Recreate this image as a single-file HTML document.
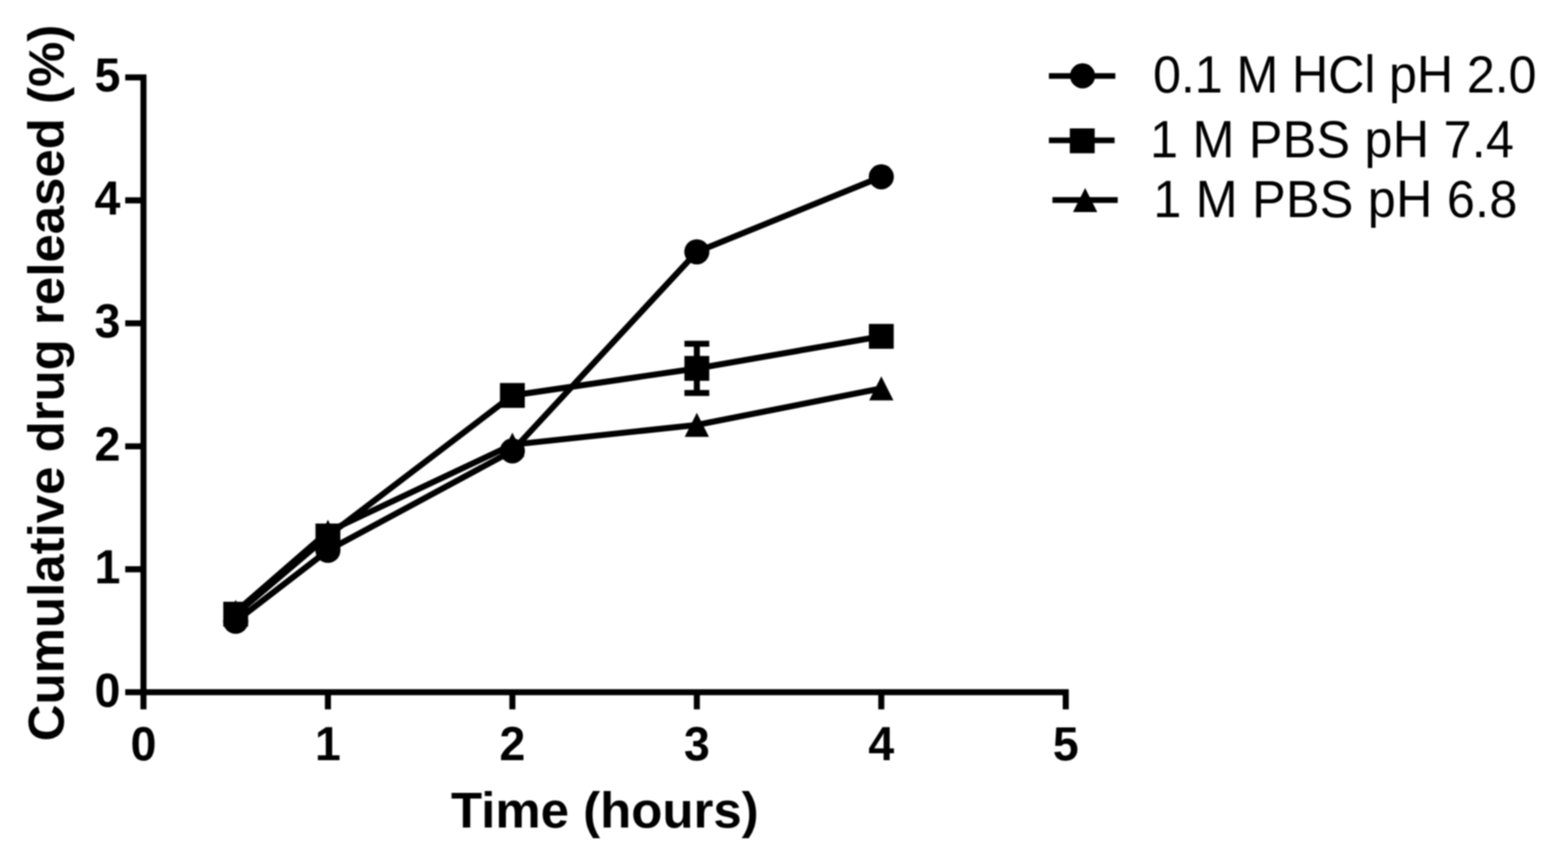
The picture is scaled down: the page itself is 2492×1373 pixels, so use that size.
<!DOCTYPE html>
<html lang="en">
<head>
<meta charset="utf-8">
<title>Cumulative drug released (%) vs Time (hours)</title>
<style>
html,body{margin:0;padding:0;background:#fff;}
body{width:2492px;height:1373px;overflow:hidden;}
svg{display:block;filter:blur(0.9px);}
text{font-family:"Liberation Sans",Arial,Helvetica,sans-serif;fill:#000;}
.tick{font-size:74px;font-weight:bold;}
.title{font-size:81px;font-weight:bold;}
.leg{font-size:80px;}
.ln{stroke:#000;stroke-width:9.6;fill:none;}
.lg{stroke-width:9.1;}
</style>
</head>
<body>
<svg width="2492" height="1373" viewBox="0 0 2492 1373">
<rect x="0" y="0" width="2492" height="1373" fill="#fff"/>

<g id="series-hcl">
<polyline class="ln" points="374.58,987.4 521.16,874.6 814.32,716.5 1107.48,400.2 1400.64,281"/>
<circle cx="374.58" cy="987.4" r="19.95"/>
<circle cx="521.16" cy="874.6" r="19.95"/>
<circle cx="814.32" cy="716.5" r="19.95"/>
<circle cx="1107.48" cy="400.2" r="19.95"/>
<circle cx="1400.64" cy="281" r="19.95"/>
</g>
<g id="series-pbs74">
<path class="ln" d="M1107.48 546.3V624.5M1087.73 546.3H1127.23M1087.73 624.5H1127.23"/>
<polyline class="ln" points="374.58,976 521.16,851.7 814.32,628.4 1107.48,585.4 1400.64,534.5"/>
<rect x="354.83" y="956.25" width="39.5" height="39.5"/>
<rect x="501.41" y="831.95" width="39.5" height="39.5"/>
<rect x="794.57" y="608.65" width="39.5" height="39.5"/>
<rect x="1087.73" y="565.65" width="39.5" height="39.5"/>
<rect x="1380.89" y="514.75" width="39.5" height="39.5"/>
</g>
<g id="series-pbs68">
<polyline class="ln" points="374.58,972.3 521.16,845 814.32,706.6 1107.48,675.2 1400.64,617.2"/>
<polygon points="374.58,953.2 393.88,991.4 355.28,991.4"/>
<polygon points="521.16,825.9 540.46,864.1 501.86,864.1"/>
<polygon points="814.32,687.5 833.62,725.7 795.02,725.7"/>
<polygon points="1107.48,656.1 1126.78,694.3 1088.18,694.3"/>
<polygon points="1400.64,598.1 1419.94,636.3 1381.34,636.3"/>
</g>
<g id="axes">
<path class="ln" d="M228 118.15V1127.3M199 1100.05H1698.6M199 904.63H228M521.16 1100.05V1127.3M199 709.21H228M814.32 1100.05V1127.3M199 513.79H228M1107.48 1100.05V1127.3M199 318.37H228M1400.64 1100.05V1127.3M199 122.95H228M1693.8 1100.05V1127.3"/>
</g>
<g id="y-tick-labels">
<text class="tick" transform="translate(191.5 1122.55) scale(1 1.025)" text-anchor="end">0</text>
<text class="tick" transform="translate(191.5 927.13) scale(1 1.025)" text-anchor="end">1</text>
<text class="tick" transform="translate(191.5 731.71) scale(1 1.025)" text-anchor="end">2</text>
<text class="tick" transform="translate(191.5 536.29) scale(1 1.025)" text-anchor="end">3</text>
<text class="tick" transform="translate(191.5 340.87) scale(1 1.025)" text-anchor="end">4</text>
<text class="tick" transform="translate(191.5 145.45) scale(1 1.025)" text-anchor="end">5</text>
</g>
<g id="x-tick-labels">
<text class="tick" transform="translate(228 1208.1) scale(1 1.025)" text-anchor="middle">0</text>
<text class="tick" transform="translate(521.16 1208.1) scale(1 1.025)" text-anchor="middle">1</text>
<text class="tick" transform="translate(814.32 1208.1) scale(1 1.025)" text-anchor="middle">2</text>
<text class="tick" transform="translate(1107.48 1208.1) scale(1 1.025)" text-anchor="middle">3</text>
<text class="tick" transform="translate(1400.64 1208.1) scale(1 1.025)" text-anchor="middle">4</text>
<text class="tick" transform="translate(1693.8 1208.1) scale(1 1.025)" text-anchor="middle">5</text>
</g>
<text class="title" transform="translate(961.2 1315.1) scale(1 0.975)" text-anchor="middle">Time (hours)</text>
<text class="title" transform="translate(101.1 608.6) rotate(-90) scale(1 0.975)" text-anchor="middle">Cumulative drug released (%)</text>
<g id="legend">
<path class="ln lg" d="M1667 120.7H1772.6"/>
<circle cx="1720.5" cy="120.5" r="19.95"/>
<text class="leg" transform="translate(1832.6 147.4) scale(1 1.050)" textLength="609.3" lengthAdjust="spacing">0.1 M HCl pH 2.0</text>
<path class="ln lg" d="M1667 223H1771.4"/>
<rect x="1700.25" y="204.05" width="39.5" height="39.5"/>
<text class="leg" transform="translate(1827.7 250) scale(1 1.050)" textLength="578.4" lengthAdjust="spacing">1 M PBS pH 7.4</text>
<path class="ln lg" d="M1672.6 317.9H1776.4"/>
<polygon points="1724.6,298.8 1743.9,337 1705.3,337"/>
<text class="leg" transform="translate(1832.9 344.8) scale(1 1.050)" textLength="578.5" lengthAdjust="spacing">1 M PBS pH 6.8</text>
</g>
</svg>
</body>
</html>
